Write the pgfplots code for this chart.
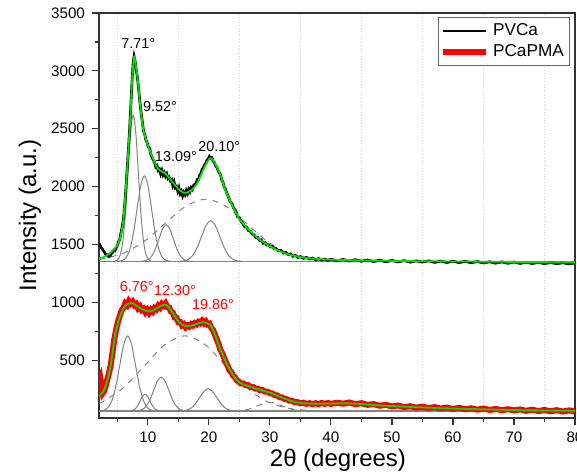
\documentclass[border=0pt]{standalone}
\usepackage{fontspec}
\setmainfont{Liberation Sans}
\usepackage{pgfplots}
\pgfplotsset{compat=1.18}
\usetikzlibrary{calc}
\definecolor{fitgreen}{RGB}{0,225,0}
\definecolor{compgray}{RGB}{130,130,130}
\begin{document}
\begin{tikzpicture}
\begin{axis}[
  at={(0,0)}, anchor=south west,
  scale only axis, width=238pt, height=202.5pt,
  xmin=2, xmax=80, ymin=0, ymax=3500,
  xtick={10,20,...,80}, minor xtick={5,15,...,75},
  ytick={500,1000,...,3500}, minor y tick num=1,
  xminorgrids=true,
  minor x grid style={densely dotted, black!18, line width=0.4pt},
  tick align=outside, tick pos=left,
  major tick length=3.5pt, minor tick length=1.8pt,
  axis line style={black!80, line width=0.75pt},
  every tick/.style={black!80, line width=0.6pt},
  /pgf/number format/assume math mode=true,
  /pgf/number format/1000 sep={},
  ticklabel style={font=\fontsize{7.6}{9}\selectfont},
  xlabel={2θ (degrees)}, ylabel={Intensity (a.u.)},
  label style={font=\fontsize{12}{14}\selectfont},
  xlabel style={at={(axis description cs:0.502,-0.104)}, anchor=center},
  ylabel style={at={(axis description cs:-0.145,0.5)}, anchor=center},
  legend style={at={(rel axis cs:0.99,0.99)}, anchor=north east,
    draw=black!60, line width=0.4pt, font=\fontsize{8.6}{10}\selectfont,
    inner sep=1pt, row sep=-1pt, cells={anchor=west}},
  legend image code/.code={\draw[#1] (0cm,0cm) -- (0.75cm,0cm);},
]
% ---------- baselines ----------
\addplot[compgray, line width=0.6pt, forget plot] coordinates {(2,1350) (80,1350)};
\addplot[compgray, line width=0.6pt, forget plot] coordinates {(2,60) (80,60)};
% ---------- top components ----------
\addplot[compgray, line width=0.5pt, smooth, forget plot] coordinates {
(4.63,1356) (5.05,1367) (5.475,1409) (5.9,1524) (6.325,1764) (6.75,2120) (7.175,2469) (7.6,2618)
(8.025,2469) (8.45,2120) (8.875,1764) (9.3,1524) (9.725,1409) (10.15,1367) (10.575,1356)};
\addplot[compgray, line width=0.5pt, smooth, forget plot] coordinates {
(5.23,1355) (5.83,1361) (6.43,1386) (7.03,1453) (7.63,1593) (8.23,1802) (8.83,2006) (9.43,2093)
(10.03,2006) (10.63,1802) (11.23,1593) (11.83,1453) (12.43,1386) (13.03,1361) (13.63,1355)};
\addplot[compgray, line width=0.5pt, smooth, forget plot] coordinates {
(8.8,1354) (9.4,1356.5) (10.0,1367) (10.6,1396) (11.2,1456) (11.8,1545) (12.4,1633) (13.0,1670)
(13.6,1633) (14.2,1545) (14.8,1456) (15.4,1396) (16.0,1367) (16.6,1356.5) (17.2,1354)};
\addplot[compgray, line width=0.5pt, smooth, forget plot] coordinates {
(15.05,1354) (15.8,1357) (16.55,1368.5) (17.3,1401) (18.05,1468) (18.8,1568) (19.55,1665) (20.3,1707)
(21.05,1665) (21.8,1568) (22.55,1468) (23.3,1401) (24.05,1368.5) (24.8,1357) (25.55,1354)};
\addplot[compgray, line width=0.5pt, smooth, dashed, forget plot] coordinates {
(2,1371) (2.75,1377) (6.1,1426) (9.45,1528) (12.8,1679) (16.15,1828) (19.5,1891)
(22.85,1828) (26.2,1679) (29.55,1528) (32.9,1426) (36.25,1377) (39.6,1359) (42.95,1354)};
% ---------- bottom components ----------
\addplot[compgray, line width=0.5pt, smooth, forget plot] coordinates {
(2.15,61.4) (2.8,67) (3.45,88.5) (4.1,148) (4.75,271) (5.4,454) (6.05,634) (6.7,710)
(7.35,634) (8.0,454) (8.65,271) (9.3,148) (9.95,88.5) (10.6,67) (11.25,61.4)};
\addplot[compgray, line width=0.5pt, smooth, forget plot] coordinates {
(6.75,60.3) (7.15,61.6) (7.55,66.4) (7.95,79.6) (8.35,107) (8.75,148) (9.15,188) (9.55,205)
(9.95,188) (10.35,148) (10.75,107) (11.15,79.6) (11.55,66.4) (11.95,61.6) (12.35,60.3)};
\addplot[compgray, line width=0.5pt, smooth, forget plot] coordinates {
(7.825,60.6) (8.45,63.3) (9.075,72.9) (9.7,100) (10.325,155) (10.95,238) (11.575,319) (12.2,353)
(12.825,319) (13.45,238) (14.075,155) (14.7,100) (15.325,72.9) (15.95,63.3) (16.575,60.6)};
\addplot[compgray, line width=0.5pt, smooth, forget plot] coordinates {
(15.0,60.4) (15.7,62.1) (16.4,68.5) (17.1,86) (17.8,123) (18.5,177) (19.2,230) (19.9,253)
(20.6,230) (21.3,177) (22.0,123) (22.7,86) (23.4,68.5) (24.1,62.1) (24.8,60.4)};
\addplot[compgray, line width=0.5pt, smooth, dashed, forget plot] coordinates {
(2.0,126) (2.9,148) (6.2,271) (9.5,454) (12.8,634) (16.1,710) (19.4,634) (22.7,454)
(26.0,271) (29.3,148) (32.6,88.5) (35.9,67) (39.2,61.4)};
\addplot[compgray, line width=0.5pt, smooth, dashed, forget plot] coordinates {
(24,60.8) (25,63.3) (26,70) (27,84.4) (28,105.5) (29,126) (30,135) (31,126) (32,105.5)
(33,84.4) (34,70) (35,63.3) (36,60.8)};
% ---------- PVCa data ----------
\addplot[black, line width=1.35pt] coordinates {
(2.0,1510) (2.2,1490) (2.4,1470) (2.6,1455) (2.8,1440) (3.0,1425) (3.2,1405) (3.4,1410) (3.6,1395)
(3.8,1400) (4.0,1420) (4.2,1430) (4.4,1450) (4.6,1445) (4.8,1470) (5.0,1490) (5.2,1520) (5.4,1545)
(5.6,1600) (5.8,1650) (6.0,1720) (6.2,1830) (6.4,1980) (6.6,2140) (6.8,2300) (7.0,2480) (7.2,2680)
(7.4,2900) (7.6,3070) (7.75,3125) (7.9,3090) (8.1,3010) (8.3,2940) (8.5,2840) (8.7,2730) (8.9,2640)
(9.1,2560) (9.3,2480) (9.5,2450) (9.7,2400) (9.9,2380) (10.1,2340) (10.3,2330) (10.5,2280) (10.7,2250)
(10.9,2230) (11.1,2210) (11.3,2170) (11.5,2180) (11.7,2140) (11.9,2150) (12.1,2110) (12.3,2140)
(12.5,2100) (12.7,2120) (12.9,2090) (13.1,2110) (13.3,2070) (13.5,2080) (13.7,2050) (13.9,2060)
(14.1,2010) (14.3,2040) (14.5,1990) (14.7,2000) (14.9,1960) (15.1,1990) (15.3,1940) (15.5,1960)
(15.7,1920) (15.9,1950) (16.1,1930) (16.3,1965) (16.5,1940) (16.7,1975) (16.9,1955) (17.1,1990)
(17.3,1975) (17.5,2010) (17.7,2020) (17.9,2030) (18.1,2060) (18.3,2060) (18.5,2100) (18.7,2110)
(18.9,2150) (19.1,2160) (19.3,2190) (19.5,2200) (19.7,2230) (19.9,2240) (20.1,2260) (20.3,2245)
(20.5,2250) (20.7,2220) (20.9,2210) (21.1,2180) (21.3,2170) (21.5,2140) (21.7,2120) (21.9,2100)
(22.1,2060) (22.3,2040) (22.5,2000) (22.7,1980) (22.9,1950) (23.2,1910) (23.5,1870) (23.8,1850)
(24.1,1810) (24.4,1790) (24.7,1740) (25.0,1730) (25.3,1700) (25.6,1680) (25.9,1650) (26.2,1650)
(26.5,1620) (26.8,1615) (27.1,1590) (27.4,1585) (27.7,1560) (28.0,1560) (28.3,1535) (28.6,1540)
(28.9,1510) (29.2,1515) (29.5,1495) (29.8,1498) (30.1,1478) (30.4,1482) (30.7,1462) (31.0,1465)
(31.4,1445) (31.8,1448) (32.2,1425) (32.6,1430) (33.0,1412) (33.4,1418) (33.8,1398) (34.2,1405)
(34.6,1388) (35.0,1395) (35.5,1380) (36.0,1388) (36.5,1374) (37.0,1382) (37.5,1368) (38.0,1378)
(38.5,1365) (39.0,1374) (39.5,1362) (40.0,1372) (41,1358) (42,1370) (43,1356) (44,1368) (45,1355)
(46,1365) (47,1352) (48,1364) (49,1350) (50,1362) (51,1349) (52,1360) (53,1347) (54,1358) (55,1348)
(56,1358) (57,1345) (58,1356) (59,1344) (60,1355) (61,1343) (62,1354) (63,1342) (64,1352) (65,1340)
(66,1350) (67,1338) (68,1349) (69,1337) (70,1348) (71,1336) (72,1346) (73,1335) (74,1345) (75,1334)
(76,1344) (77,1333) (78,1342) (79,1332) (80,1340)};
\addlegendentry{PVCa}
% ---------- PCaPMA data ----------
\addplot[red, line width=3pt] coordinates {
(2.0,320) (2.2,345) (2.4,270) (2.6,215) (2.8,230) (3.0,260) (3.3,320) (3.6,380) (3.9,450) (4.2,560)
(4.5,680) (4.8,760) (5.1,830) (5.4,880) (5.7,930) (6.0,950) (6.3,990) (6.6,975) (6.9,1010) (7.2,990)
(7.5,1005) (7.8,975) (8.1,985) (8.4,950) (8.7,965) (9.0,935) (9.3,945) (9.6,915) (9.9,935) (10.2,910)
(10.5,935) (10.8,920) (11.1,950) (11.4,940) (11.7,970) (12.0,955) (12.3,985) (12.6,970) (12.9,990)
(13.2,960) (13.5,955) (13.8,920) (14.1,910) (14.4,870) (14.7,865) (15.0,830) (15.3,830) (15.6,800)
(15.9,810) (16.2,785) (16.5,800) (16.8,790) (17.1,810) (17.4,800) (17.7,820) (18.0,810) (18.3,830)
(18.6,820) (18.9,840) (19.2,820) (19.5,835) (19.8,810) (20.1,815) (20.4,780) (20.7,760) (21.0,720)
(21.3,680) (21.6,640) (21.9,590) (22.2,560) (22.5,520) (22.8,480) (23.1,450) (23.4,410) (23.7,395)
(24.0,365) (24.3,350) (24.6,325) (24.9,315) (25.2,300) (25.6,300) (26.0,285) (26.4,285) (26.8,270)
(27.2,270) (27.6,255) (28.0,255) (28.4,240) (28.8,242) (29.2,228) (29.6,228) (30.0,215) (30.4,212)
(30.8,198) (31.2,195) (31.6,180) (32.0,178) (32.4,165) (32.8,162) (33.2,150) (33.6,150) (34.0,138)
(34.5,138) (35.0,128) (35.5,132) (36.0,122) (36.5,128) (37.0,120) (37.5,128) (38.0,120) (38.5,130)
(39.0,122) (39.5,130) (40.0,122) (41,132) (42,124) (43,134) (44,120) (45,128) (46,114) (47,120)
(48,106) (49,114) (50,100) (51,108) (52,94) (53,102) (54,90) (55,98) (56,86) (57,94) (58,82) (59,90)
(60,78) (61,88) (62,76) (63,84) (64,72) (65,82) (66,70) (67,78) (68,68) (69,76) (70,66) (71,74)
(72,62) (73,72) (74,60) (75,70) (76,58) (77,68) (78,56) (79,66) (80,58)};
\addlegendentry{PCaPMA}
% ---------- fits ----------
\addplot[fitgreen, line width=0.9pt, smooth, forget plot] coordinates {
(2.0,1383) (2.5,1385) (3.0,1395) (3.8,1426) (4.5,1460) (5.2,1512) (5.6,1590) (6.0,1713) (6.5,2058)
(7.08,2546) (7.4,2900) (7.74,3120) (8.0,3060) (8.3,2948) (8.72,2719) (9.27,2489) (10.1,2345)
(11.45,2172) (12.3,2130) (12.8,2115) (13.5,2075) (14.2,2029) (15.0,1980) (15.8,1948) (16.5,1950)
(17.2,1971) (18.0,2020) (18.6,2086) (19.4,2180) (20.2,2245) (20.8,2220) (21.55,2144) (22.2,2050)
(22.9,1943) (24.0,1820) (25.1,1713) (26.7,1620) (28.4,1540) (30.0,1485) (31.7,1440) (33.3,1410)
(34.95,1391) (36.5,1380) (38.2,1374) (40,1368) (45,1362) (50,1358) (55,1355) (60,1353) (65,1351)
(70,1349) (75,1347) (80,1345)};
\addplot[fitgreen, line width=0.9pt, smooth, forget plot] coordinates {
(2.0,190) (2.7,230) (3.2,300) (3.8,420) (4.2,560) (4.6,707) (5.0,800) (5.44,879) (6.0,945) (6.5,980)
(7.36,995) (8.0,975) (8.72,952) (9.5,930) (10.4,922) (11.2,940) (12.0,965) (12.8,980) (13.4,960)
(13.9,922) (14.5,875) (15.0,836) (15.7,805) (16.4,793) (17.0,797) (17.7,808) (18.4,820) (19.1,828)
(19.7,820) (20.2,808) (20.8,750) (21.3,678) (21.8,605) (22.4,534) (23.0,460) (23.75,391) (24.4,340)
(25.1,305) (26.2,280) (27.3,262) (28.6,240) (30.0,219) (31.4,190) (32.75,161) (34.0,140) (35.5,127)
(37.5,124) (39.9,125) (42,127) (44.8,122) (47.5,110) (50.3,103) (53,96) (55.7,90) (58,85) (60.6,81)
(65,75) (69.9,69) (75,65) (80,62)};
% ---------- peak labels ----------
\begin{scope}[every node/.style={font=\fontsize{7.2}{8.5}\selectfont, inner sep=0pt}]
\node at (axis cs:8.45,3236) {7.71°};
\node at (axis cs:12.0,2695) {9.52°};
\node at (axis cs:14.6,2259) {13.09°};
\node at (axis cs:21.7,2345) {20.10°};
\node[red] at (axis cs:8.18,1138) {6.76°};
\node[red] at (axis cs:14.46,1103) {12.30°};
\node[red] at (axis cs:20.7,980) {19.86°};
\end{scope}
\end{axis}
\pgfresetboundingbox
\useasboundingbox ($(current axis.south west)+(-49.5pt,-27.5pt)$) rectangle ($(current axis.south west)+(239pt,209pt)$);
\end{tikzpicture}
\end{document}
